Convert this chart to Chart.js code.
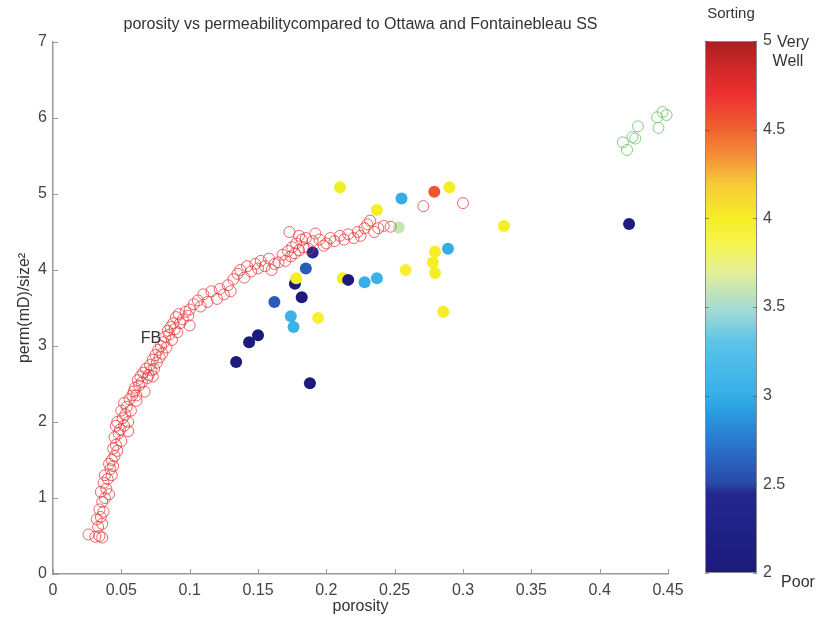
<!DOCTYPE html>
<html><head><meta charset="utf-8">
<script src="https://cdn.jsdelivr.net/npm/chart.js@4.4.1/dist/chart.umd.min.js"></script>
<style>
html,body{margin:0;padding:0;background:#fff;}
#wrap{position:relative;width:830px;height:617px;overflow:hidden;}
#main{position:absolute;left:0;top:0;}
#cbar{position:absolute;left:680px;top:0;}
</style></head><body>
<div id="wrap">
<canvas id="main" width="830" height="617"></canvas>
<canvas id="cbar" width="150" height="617"></canvas>
</div>
<script>
// ---------- DATA ----------
const xTickLabels = ['0','0.05','0.1','0.15','0.2','0.25','0.3','0.35','0.4','0.45'];
const yTickLabels = ['0','1','2','3','4','5','6','7'];
const cbarTickLabels = ['2','2.5','3','3.5','4','4.5','5'];

// Fontainebleau sandstone (open red circles)
const fbPorosity = [
0.026,0.031,0.034,0.036,0.033,0.032,0.035,0.034,0.037,0.036,0.038,0.035,0.039,0.037,0.040,0.038,0.041,0.036,
0.042,0.043,0.041,0.045,0.044,0.046,0.047,0.045,0.048,0.046,0.049,0.047,0.050,0.043,0.044,
0.051,0.052,0.053,0.050,0.054,0.055,0.056,0.052,0.057,0.058,0.055,0.059,
0.060,0.061,0.062,0.063,0.064,0.065,0.066,0.067,0.068,0.069,0.070,0.061,
0.071,0.072,0.073,0.074,0.075,0.076,0.077,0.078,0.079,0.080,0.073,
0.081,0.082,0.083,0.084,0.085,0.086,0.087,0.088,0.089,0.090,
0.091,0.092,0.093,0.095,0.097,0.099,0.100,0.100,
0.103,0.106,0.108,0.110,0.113,0.116,0.120,0.122,0.125,0.128,0.130,0.132,0.135,0.137,0.140,0.142,0.145,0.148,0.150,
0.152,0.155,0.158,0.160,0.162,0.165,0.168,0.170,0.172,0.174,0.175,0.177,0.178,0.180,0.182,0.183,0.185,0.187,0.173,0.180,0.190,0.192,0.195,0.198,0.200,
0.203,0.206,0.210,0.213,0.216,0.220,0.223,0.225,0.228,0.230,0.232,0.235,0.238,0.242,0.247,
0.271,0.300];
const fbPerm = [
0.52,0.49,0.50,0.48,0.62,0.72,0.75,0.85,0.82,0.95,1.00,1.08,1.12,1.20,1.25,1.30,1.05,0.66,
1.38,1.50,1.45,1.55,1.65,1.70,1.62,1.80,1.85,1.95,1.90,2.00,1.75,1.30,1.42,
2.05,1.95,2.10,2.15,2.20,2.00,2.30,2.25,2.15,2.35,1.88,2.40,
2.45,2.35,2.55,2.48,2.60,2.52,2.65,2.40,2.70,2.58,2.62,2.28,
2.75,2.68,2.82,2.70,2.88,2.78,2.95,2.85,3.00,2.90,2.60,
3.05,3.12,2.98,3.20,3.15,3.25,3.08,3.30,3.22,3.38,
3.18,3.42,3.30,3.35,3.45,3.40,3.27,3.48,
3.55,3.60,3.52,3.68,3.58,3.72,3.62,3.75,3.68,3.80,3.72,3.88,3.95,4.00,3.90,4.05,3.98,4.08,4.02,
4.12,4.05,4.15,4.00,4.08,4.10,4.20,4.12,4.25,4.18,4.30,4.22,4.35,4.26,4.40,4.30,4.42,4.28,4.50,4.45,4.38,4.48,4.40,4.32,4.35,
4.42,4.38,4.45,4.40,4.47,4.42,4.50,4.45,4.55,4.60,4.65,4.50,4.55,4.58,4.57,
4.84,4.88];

// Ottawa sand (open green circles)
const ottPorosity = [0.417,0.420,0.424,0.428,0.442,0.446,0.449,0.443,0.426];
const ottPerm     = [5.68,5.58,5.75,5.89,6.01,6.08,6.04,5.87,5.73];

// Samples (filled, coloured by sorting)
const samplePorosity = [0.210,0.255,0.279,0.290,0.237,0.253,0.190,0.185,0.177,0.178,0.182,0.162,0.212,0.216,0.228,0.237,0.258,0.2795,0.278,0.2795,0.289,0.2855,0.330,0.4215,0.174,0.176,0.194,0.150,0.1435,0.134,0.188];
const samplePerm     = [5.09,4.94,5.03,5.09,4.79,4.56,4.23,4.02,3.82,3.89,3.64,3.58,3.89,3.87,3.84,3.89,4.00,4.24,4.10,3.96,4.28,3.45,4.58,4.605,3.39,3.25,3.37,3.14,3.05,2.79,2.51];
const sampleSorting  = [4.0,3.0,4.55,4.0,4.0,3.6,2.45,2.6,2.0,4.0,2.0,2.6,4.0,2.0,3.0,3.05,3.95,4.0,4.0,4.0,3.0,4.0,4.0,2.05,3.05,3.05,3.95,2.0,2.0,2.0,2.0];

// ---------- STYLE ----------
const FONT = "'Liberation Sans', Arial, Helvetica, sans-serif";
const cmapValues = [2.0,2.45,2.5,2.7,2.9,3.0,3.3,3.5,3.7,3.85,4.0,4.2,4.35,4.5,4.7,4.85,5.0];
const cmapColors = ['#1c1a7c','#23288f','#2848a8','#2a70c8','#2a9ae0','#35aee8','#5cc4ea','#a8dcd0','#e4f096','#f6f450','#f4ee24','#f8c838','#f49038','#ee6230','#ec3030','#d02828','#a82020'];

function hexToRgb(h){const n=parseInt(h.slice(1),16);return [(n>>16)&255,(n>>8)&255,n&255];}
function cmap(v){
  if(v<=cmapValues[0]) return cmapColors[0];
  for(let i=1;i<cmapValues.length;i++){
    if(v<=cmapValues[i]){
      const t=(v-cmapValues[i-1])/(cmapValues[i]-cmapValues[i-1]);
      const a=hexToRgb(cmapColors[i-1]), b=hexToRgb(cmapColors[i]);
      const c=a.map((x,k)=>Math.round(x+(b[k]-x)*t));
      return 'rgb('+c.join(',')+')';
    }
  }
  return cmapColors[cmapColors.length-1];
}

const zip=(xs,ys)=>xs.map((x,i)=>({x:x,y:ys[i]}));

const mainDecor = {
  id:'mainDecor',
  afterDraw(chart){
    const {ctx, chartArea:a, scales:{x,y}} = chart;
    ctx.save();
    ctx.strokeStyle='#9a9a9a'; ctx.lineWidth=1;
    x.ticks.forEach(t=>{const p=Math.round(x.getPixelForValue(t.value))+0.5;ctx.beginPath();ctx.moveTo(p,a.bottom);ctx.lineTo(p,a.bottom-5);ctx.stroke();});
    y.ticks.forEach(t=>{const p=Math.round(y.getPixelForValue(t.value))+0.5;ctx.beginPath();ctx.moveTo(a.left,p);ctx.lineTo(a.left+5,p);ctx.stroke();});
    ctx.fillStyle='#333'; ctx.font='16px '+FONT; ctx.textAlign='center'; ctx.textBaseline='middle';
    ctx.fillText('porosity vs permeabilitycompared to Ottawa and Fontainebleau SS',(a.left+a.right)/2,25);
    ctx.fillText('FB', x.getPixelForValue(0.0717), y.getPixelForValue(3.1));
    ctx.restore();
  }
};

new Chart(document.getElementById('main'), {
  type:'scatter',
  data:{datasets:[
    {label:'Fontainebleau', data:zip(fbPorosity,fbPerm), clip:false, pointRadius:5.5, pointBorderWidth:0.9, pointBorderColor:'rgba(230,55,55,0.85)', pointBackgroundColor:'rgba(0,0,0,0)'},
    {label:'Ottawa', data:zip(ottPorosity,ottPerm), clip:false, pointRadius:5.5, pointBorderWidth:0.9, pointBorderColor:'#74cc74', pointBackgroundColor:'rgba(0,0,0,0)'},
    {label:'Samples', data:zip(samplePorosity,samplePerm), clip:false, pointRadius:6, pointBorderWidth:0,
      pointBackgroundColor:sampleSorting.map(cmap), pointBorderColor:sampleSorting.map(cmap)}
  ]},
  options:{
    responsive:false, animation:false, devicePixelRatio:1,
    layout:{padding:{left:0,right:162,top:42,bottom:0}},
    plugins:{legend:{display:false},tooltip:{enabled:false}},
    scales:{
      x:{type:'linear',min:0,max:0.45,
        ticks:{stepSize:0.05,color:'#444',font:{family:FONT,size:16},padding:7,maxRotation:0,autoSkip:false,
          callback:(v,i)=>xTickLabels[i]},
        grid:{display:false,drawTicks:false},
        border:{display:true,color:'#9a9a9a',width:1.5},
        title:{display:true,text:'porosity',color:'#333',font:{family:FONT,size:16},padding:{top:0,bottom:1}},
        afterFit:s=>{s.height=43;}
      },
      y:{type:'linear',min:0,max:7,
        ticks:{stepSize:1,color:'#444',font:{family:FONT,size:16},padding:6,autoSkip:false,
          callback:(v,i)=>yTickLabels[i]},
        grid:{display:false,drawTicks:false},
        border:{display:true,color:'#9a9a9a',width:1.5},
        title:{display:true,text:'perm(mD)/size²',color:'#333',font:{family:FONT,size:16},padding:{top:15,bottom:0}},
        afterFit:s=>{s.width=53;}
      }
    }
  },
  plugins:[mainDecor]
});

const cbarDecor = {
  id:'cbarDecor',
  beforeDatasetsDraw(chart){
    const {ctx, chartArea:a, scales:{y}} = chart;
    const y0=y.getPixelForValue(cmapValues[0]), y1=y.getPixelForValue(cmapValues[cmapValues.length-1]);
    const g=ctx.createLinearGradient(0,y0,0,y1);
    cmapValues.forEach((v,i)=>g.addColorStop((v-cmapValues[0])/(cmapValues[cmapValues.length-1]-cmapValues[0]),cmapColors[i]));
    ctx.save();
    ctx.fillStyle=g; ctx.fillRect(a.left,a.top,a.right-a.left,a.bottom-a.top);
    ctx.strokeStyle='#8a8a8a'; ctx.lineWidth=1;
    ctx.strokeRect(a.left+0.5,a.top+0.5,a.right-a.left-1,a.bottom-a.top-1);
    ctx.strokeStyle='rgba(60,60,60,0.5)';
    y.ticks.forEach(t=>{const p=Math.round(y.getPixelForValue(t.value))+0.5;
      ctx.beginPath();ctx.moveTo(a.left,p);ctx.lineTo(a.left+4,p);ctx.moveTo(a.right,p);ctx.lineTo(a.right-4,p);ctx.stroke();});
    ctx.fillStyle='#333'; ctx.font='15px '+FONT; ctx.textAlign='center'; ctx.textBaseline='middle';
    ctx.fillText('Sorting',(a.left+a.right)/2,14);
    ctx.font='16px '+FONT;
    ctx.fillText('Very',113,43);
    ctx.fillText('Well',108,62);
    ctx.fillText('Poor',118,583);
    ctx.restore();
  }
};

new Chart(document.getElementById('cbar'), {
  type:'scatter',
  data:{datasets:[]},
  options:{
    responsive:false, animation:false, devicePixelRatio:1,
    layout:{padding:{left:25,right:0,top:41,bottom:44}},
    plugins:{legend:{display:false},tooltip:{enabled:false}},
    scales:{
      x:{display:false,min:0,max:1},
      y:{position:'right',min:2,max:5,
        ticks:{stepSize:0.5,color:'#444',font:{family:FONT,size:16},padding:6,autoSkip:false,
          callback:(v,i)=>cbarTickLabels[i]},
        grid:{display:false,drawTicks:false},border:{display:false},
        afterFit:s=>{s.width=73;}
      }
    }
  },
  plugins:[cbarDecor]
});
</script>
</body></html>
